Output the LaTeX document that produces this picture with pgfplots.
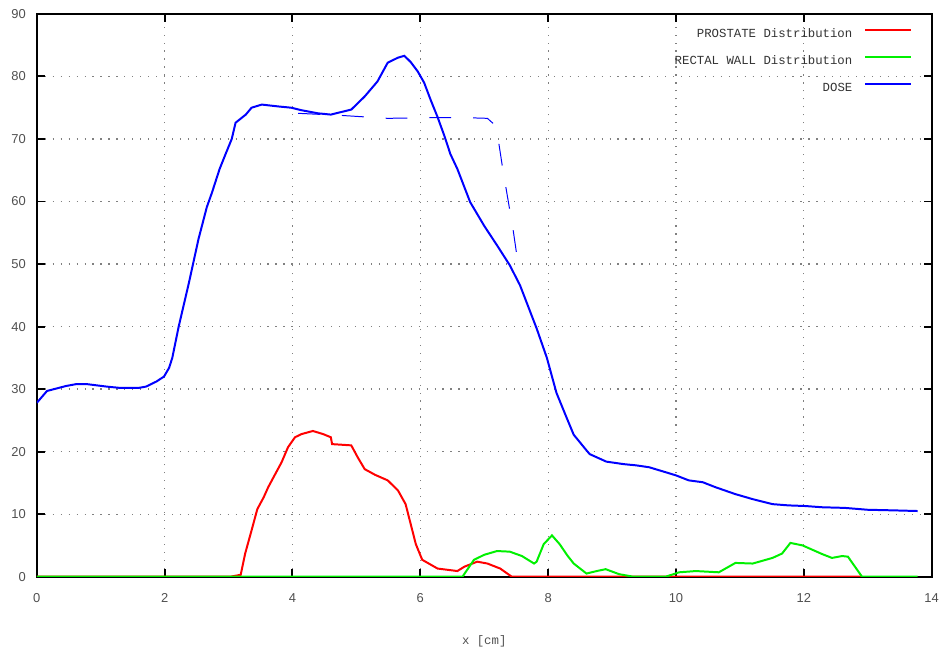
\documentclass[border=0pt]{standalone}
\usepackage{fontspec}
\setmainfont{Liberation Sans}
\newfontfamily\mono{Liberation Mono}
\usepackage{pgfplots}
\pgfplotsset{compat=1.18}
\pgfplotsset{
  layers/my layer set/.define layer set={
    axis background, axis grid, legend bg, axis ticks, axis lines,
    axis tick labels, main, axis descriptions, axis foreground
  }{},
}
\definecolor{tickgray}{HTML}{505050}
\definecolor{gridgray}{HTML}{808080}
\definecolor{ggreen}{HTML}{00F000}
\begin{document}
\begin{tikzpicture}
\begin{axis}[
  name=ax,
  set layers=my layer set,
  scale only axis,
  width=450pt, height=283pt,
  xmin=0, xmax=14, ymin=0, ymax=90,
  xtick={0,2,...,14}, ytick={0,10,...,90},
  /pgf/number format/assume math mode=true,
  ticklabel style={font=\fontsize{6.5}{7}\selectfont, text=tickgray},
  xticklabel style={anchor=base, yshift=-13pt},
  yticklabel style={anchor=east, xshift=-2pt},
  grid=major,
  grid style={gridgray, line width=0.6pt, dash pattern=on 0.6pt off 3.4pt},
  axis line style={line width=1pt, black},
  tick style={black, line width=1pt},
  major tick length=4pt,
  xlabel={x [cm]},
  xlabel style={font=\mono\fontsize{6.2}{7}\selectfont, text=tickgray, at={(0.5,-0.115)}, anchor=center},
  legend cell align=right,
  legend plot pos=right,
  legend image code/.code={\draw[#1, line width=1.2pt] (0pt,2pt) -- (23pt,2pt);},
  legend style={draw=none, fill=none, at={(1,1)}, anchor=north east,
    yshift=-1.5pt,
    inner xsep=9.5pt, inner ysep=5.75pt, row sep=8pt, column sep=6pt,
    font=\mono\fontsize{6.2}{7}\selectfont, text=black!80,
    nodes={inner sep=0pt, text height=4.5pt, text depth=1pt}},
]
\begin{pgfonlayer}{legend bg}
\fill[white] (rel axis cs:0.6567,0.8445) rectangle (rel axis cs:1,1);
\end{pgfonlayer}
\addplot[black, line width=1pt, forget plot] coordinates {(0,0)(14,0)};
\addplot[red, line width=1pt] coordinates {
(0,0)(3.03,0)(3.19,0.3)(3.26,3.7)(3.36,7.4)(3.45,10.8)(3.55,12.7)(3.62,14.3)(3.73,16.4)(3.83,18.3)(3.93,20.7)(4.04,22.3)(4.14,22.8)(4.32,23.3)(4.48,22.8)(4.6,22.3)(4.62,21.2)(4.92,21)(5.02,19.1)(5.13,17.2)(5.29,16.3)(5.49,15.4)(5.65,13.8)(5.77,11.6)(5.85,8.4)(5.93,5.2)(6.03,2.7)(6.27,1.3)(6.58,0.9)(6.69,1.6)(6.89,2.4)(7.05,2.1)(7.25,1.3)(7.43,0)(12.9,0)};
\addlegendentry{PROSTATE Distribution}
\addplot[ggreen, line width=1pt] coordinates {
(0,0)(6.66,0)(6.84,2.7)(7.0,3.5)(7.2,4.1)(7.4,4.0)(7.59,3.3)(7.78,2.1)(7.82,2.4)(7.93,5.2)(8.06,6.6)(8.18,5.2)(8.3,3.4)(8.4,2.1)(8.6,0.5)(8.76,0.9)(8.9,1.2)(9.11,0.4)(9.33,0)(9.84,0)(10.05,0.7)(10.31,0.9)(10.67,0.7)(10.93,2.2)(11.2,2.1)(11.51,3.0)(11.66,3.7)(11.79,5.4)(11.98,5.0)(12.29,3.6)(12.44,3.0)(12.6,3.3)(12.69,3.2)(12.91,0)(13.78,0)};
\addlegendentry{RECTAL WALL Distribution}
\addplot[blue, line width=1pt] coordinates {
(0,27.8)(0.16,29.7)(0.46,30.5)(0.62,30.8)(0.78,30.8)(1.09,30.4)(1.29,30.2)(1.6,30.2)(1.71,30.4)(1.87,31.2)(1.99,32)(2.07,33.4)(2.12,35)(2.22,40)(2.38,47)(2.53,54)(2.66,59.1)(2.74,61.4)(2.8,63.3)(2.86,65.2)(2.97,68)(3.05,70)(3.11,72.6)(3.27,73.9)(3.36,75)(3.52,75.5)(3.78,75.2)(3.98,75)(4.14,74.6)(4.4,74.1)(4.6,73.9)(4.92,74.7)(5.13,76.8)(5.33,79.2)(5.49,82.2)(5.65,83)(5.75,83.3)(5.85,82.3)(5.96,80.8)(6.06,79)(6.16,76.3)(6.27,73.5)(6.38,70.4)(6.47,67.6)(6.58,65.2)(6.78,59.9)(7.0,56.1)(7.2,53)(7.4,49.8)(7.56,46.6)(7.82,39.7)(7.98,35)(8.13,29.4)(8.29,25.4)(8.4,22.7)(8.6,20.2)(8.65,19.6)(8.91,18.4)(9.18,18)(9.38,17.8)(9.58,17.5)(9.84,16.7)(10,16.2)(10.2,15.4)(10.42,15.1)(10.62,14.3)(10.93,13.2)(11.2,12.4)(11.51,11.6)(11.76,11.4)(12.02,11.3)(12.29,11.1)(12.64,11)(13.0,10.7)(13.42,10.6)(13.78,10.5)};
\addlegendentry{DOSE}
\addplot[blue, line width=0.5pt, dash pattern=on 11pt off 11pt, forget plot] coordinates {
(4.09,74.1)(4.71,73.8)(5.49,73.3)(6.11,73.4)(6.73,73.4)(7.05,73.3)(7.17,72.2)(7.23,69.2)(7.29,65.2)(7.37,60.4)(7.45,55.6)(7.54,49.3)};
\end{axis}
\pgfresetboundingbox
\path ([xshift=-18.5pt,yshift=-37pt]ax.south west) rectangle ([xshift=4.2pt,yshift=7pt]ax.north east);
\end{tikzpicture}
\end{document}
